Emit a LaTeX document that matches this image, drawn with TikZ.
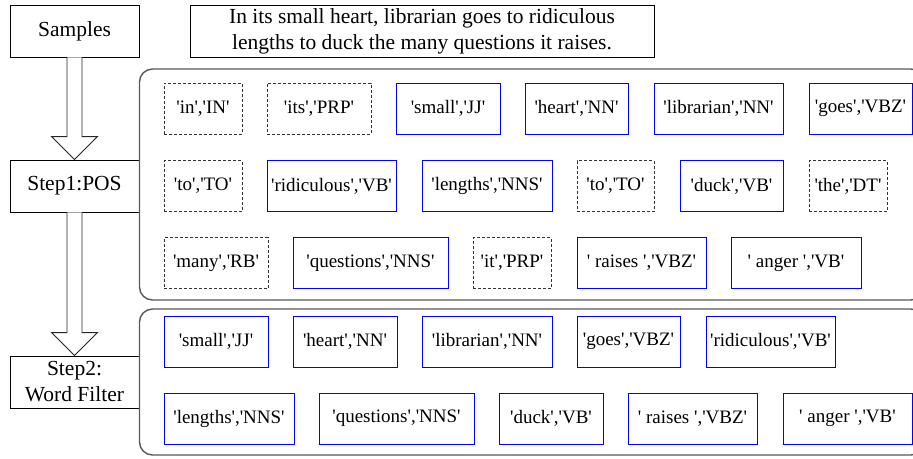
\documentclass[tikz,border=0pt]{standalone}
\usepackage{fontspec}
\newfontfamily\tnr{Liberation Serif}
\usetikzlibrary{calc}
\begin{document}
\begin{tikzpicture}[x=1pt,y=-1pt,
  lbl/.style={draw=black, line width=0.9pt, inner sep=0pt, minimum width=129pt, minimum height=52pt, align=center, font=\tnr\fontsize{21.5}{26}\selectfont},
  tok/.style={draw=blue, line width=0.9pt, inner sep=0pt, minimum height=51pt, font=\tnr\fontsize{19}{22}\selectfont},
  dtok/.style={tok, draw=black!80, dash pattern=on 3pt off 2pt},
  group/.style={draw=black!65, line width=1.4pt, rounded corners=13pt},
  blockarrow/.style={draw=black!85, line width=0.9pt, fill=white}]
\clip (0,0) rectangle (913,458);
\fill[white] (0,0) rectangle (913,458);

% left labels
\node[lbl] (samples) at (74.5,31) {Samples};
\node[lbl] (step1) at (74.5,186) {Step1:POS};
\node[lbl] (step2) at (74.5,382) {Step2:\\Word Filter};
\node[lbl, minimum width=464pt] (sent) at (422,31) {In its small heart, librarian goes to ridiculous\\lengths to duck the many questions it raises.};

% block arrows
\draw[blockarrow] ($(samples.south)+(-7.5,0)$) -- ($(step1.north)+(-7.5,-23)$) -- ($(step1.north)+(-23,-23)$) -- (step1.north)
  -- ($(step1.north)+(23,-23)$) -- ($(step1.north)+(7.5,-23)$) -- ($(samples.south)+(7.5,0)$);
\draw[blockarrow] ($(step1.south)+(-7.5,0)$) -- ($(step2.north)+(-7.5,-23)$) -- ($(step2.north)+(-23,-23)$) -- (step2.north)
  -- ($(step2.north)+(23,-23)$) -- ($(step2.north)+(7.5,-23)$) -- ($(step1.south)+(7.5,0)$);

% group boxes
\draw[group] (139.5,69) rectangle (924,300);
\draw[group] (139.5,309) rectangle (924,455);

% POS row 1
\node[dtok, minimum width=78pt] (p1) at (203,108.5) {'in','IN'};
\node[dtok, minimum width=104pt] (p2) at (319,108.5) {'its','PRP'};
\node[tok, minimum width=104pt] (p3) at (448,108.5) {'small','JJ'};
\node[tok, minimum width=103pt] (p4) at (576.5,108.5) {'heart','NN'};
\node[tok, minimum width=129pt] (p5) at (718.5,108.5) {'librarian','NN'};
\node[tok, minimum width=103pt] (p6) at (860.5,108.5) {'goes','VBZ'};
% POS row 2
\node[dtok, minimum width=78pt] (p7) at (203,186) {'to','TO'};
\node[tok, minimum width=129pt] (p8) at (331.5,186) {'ridiculous','VB'};
\node[tok, minimum width=130pt] (p9) at (487,186) {'lengths','NNS'};
\node[dtok, minimum width=77pt] (p10) at (615.5,186) {'to','TO'};
\node[tok, minimum width=103pt] (p11) at (731.5,186) {'duck','VB'};
\node[dtok, minimum width=78pt] (p12) at (848,186) {'the','DT'};
% POS row 3
\node[dtok, minimum width=104pt] (p13) at (216,263) {'many','RB'};
\node[tok, minimum width=155pt] (p14) at (370.5,263) {'questions','NNS'};
\node[dtok, minimum width=78pt] (p15) at (512,263) {'it','PRP'};
\node[tok, minimum width=129pt] (p16) at (641.5,263) {' raises ','VBZ'};
\node[tok, minimum width=130pt] (p17) at (796,263) {' anger ','VB'};

% Filter row 1
\node[tok, minimum width=104pt] (f1) at (216,341.5) {'small','JJ'};
\node[tok, minimum width=104pt] (f2) at (345,341.5) {'heart','NN'};
\node[tok, minimum width=130pt] (f3) at (487,341.5) {'librarian','NN'};
\node[tok, minimum width=103pt] (f4) at (628.5,341.5) {'goes','VBZ'};
\node[tok, minimum width=129pt] (f5) at (770.5,341.5) {'ridiculous','VB'};
% Filter row 2
\node[tok, minimum width=130pt] (f6) at (229,418.5) {'lengths','NNS'};
\node[tok, minimum width=155pt] (f7) at (396.5,418.5) {'questions','NNS'};
\node[tok, minimum width=104pt] (f8) at (551,418.5) {'duck','VB'};
\node[tok, minimum width=129pt] (f9) at (692.5,418.5) {' raises ','VBZ'};
\node[tok, minimum width=129pt] (f10) at (847.5,418.5) {' anger ','VB'};
\end{tikzpicture}
\end{document}
